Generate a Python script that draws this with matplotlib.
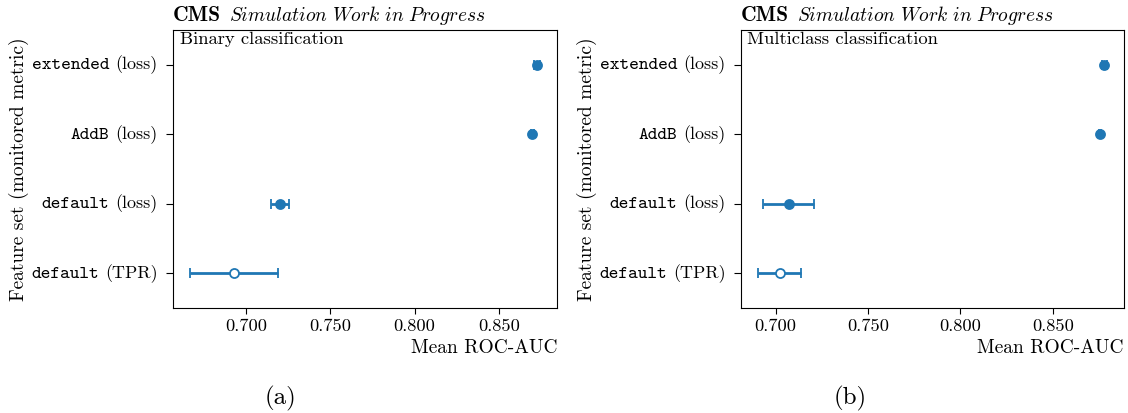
import matplotlib
matplotlib.use("Agg")
import matplotlib.pyplot as plt
from matplotlib.ticker import MultipleLocator, FormatStrFormatter
from matplotlib.offsetbox import TextArea, HPacker, AnnotationBbox

plt.rcParams["font.family"] = "serif"
plt.rcParams["font.serif"] = ["cmr10"]
plt.rcParams["mathtext.fontset"] = "cm"
plt.rcParams["axes.unicode_minus"] = False
plt.rcParams["axes.formatter.use_mathtext"] = True

# Feature sets (monospace name, monitored metric), bottom to top
feature_sets = ["default", "default", "AddB", "extended"]
metrics = ["(TPR)", "(loss)", "(loss)", "(loss)"]
open_marker = [True, False, False, False]

binary_mean = [0.693, 0.7203, 0.8700, 0.8727]
binary_err = [0.026, 0.0054, 0.0010, 0.0015]

multi_mean = [0.7023, 0.7072, 0.8757, 0.8779]
multi_err = [0.0116, 0.0138, 0.0006, 0.0012]

color = "#1f77b4"


def mixed_label(ax, y, name, metric):
    box = HPacker(children=[TextArea(name, textprops=dict(family="cmtt10", size=13.3)),
                            TextArea(metric, textprops=dict(size=13))],
                  align="baseline", pad=0, sep=4.5)
    ab = AnnotationBbox(box, (0, y), xycoords=ax.get_yaxis_transform(),
                        xybox=(-11, 0), boxcoords="offset points",
                        box_alignment=(1, 0.5), frameon=False,
                        annotation_clip=False)
    ax.add_artist(ab)


def draw_panel(ax, means, errs, note):
    for i, (m, e, hollow) in enumerate(zip(means, errs, open_marker)):
        ax.errorbar(m, i, xerr=e, fmt="o", color=color, ms=6.5, lw=2,
                    capsize=3.5, capthick=1.5,
                    mfc="white" if hollow else color, mew=1.3)
    ax.set_yticks(range(len(feature_sets)))
    ax.set_yticklabels([""] * len(feature_sets))
    for i, (name, metric) in enumerate(zip(feature_sets, metrics)):
        mixed_label(ax, i, name, metric)
    ax.set_ylim(-0.5, 3.5)
    ax.xaxis.set_major_locator(MultipleLocator(0.05))
    ax.xaxis.set_major_formatter(FormatStrFormatter("%.3f"))
    ax.tick_params(axis="x", labelsize=13.3, length=4)
    ax.tick_params(axis="y", length=5)
    ax.set_xlabel("Mean ROC-AUC", loc="right", fontsize=14)
    ax.set_ylabel("Feature set (monitored metric)", fontsize=14)
    ax.yaxis.set_label_coords(-0.375, 0.5)

    # experiment label above the frame
    title = HPacker(children=[TextArea("CMS", textprops=dict(family="cmb10", size=15.5)),
                              TextArea(r"$\mathit{Simulation\ Work\ in\ Progress}$",
                                       textprops=dict(size=14))],
                    align="baseline", pad=0, sep=5.5)
    ax.add_artist(AnnotationBbox(title, (0, 1), xycoords="axes fraction",
                                 xybox=(0, 2.5), boxcoords="offset points",
                                 box_alignment=(0, 0), frameon=False,
                                 annotation_clip=False))
    ax.text(0.017, 0.995, note, transform=ax.transAxes, ha="left", va="top",
            fontsize=13.4)


fig = plt.figure(figsize=(11.28, 4.13), dpi=100)
ax1 = fig.add_axes([0.1534, 0.2542, 0.3404, 0.6732])
ax2 = fig.add_axes([0.6569, 0.2542, 0.3395, 0.6732])

draw_panel(ax1, binary_mean, binary_err, "Binary classification")
draw_panel(ax2, multi_mean, multi_err, "Multiclass classification")

fig.text(0.249, 0.036, "(a)", ha="center", va="center", fontsize=18)
fig.text(0.754, 0.036, "(b)", ha="center", va="center", fontsize=18)

fig.savefig("out.png", dpi=100)
